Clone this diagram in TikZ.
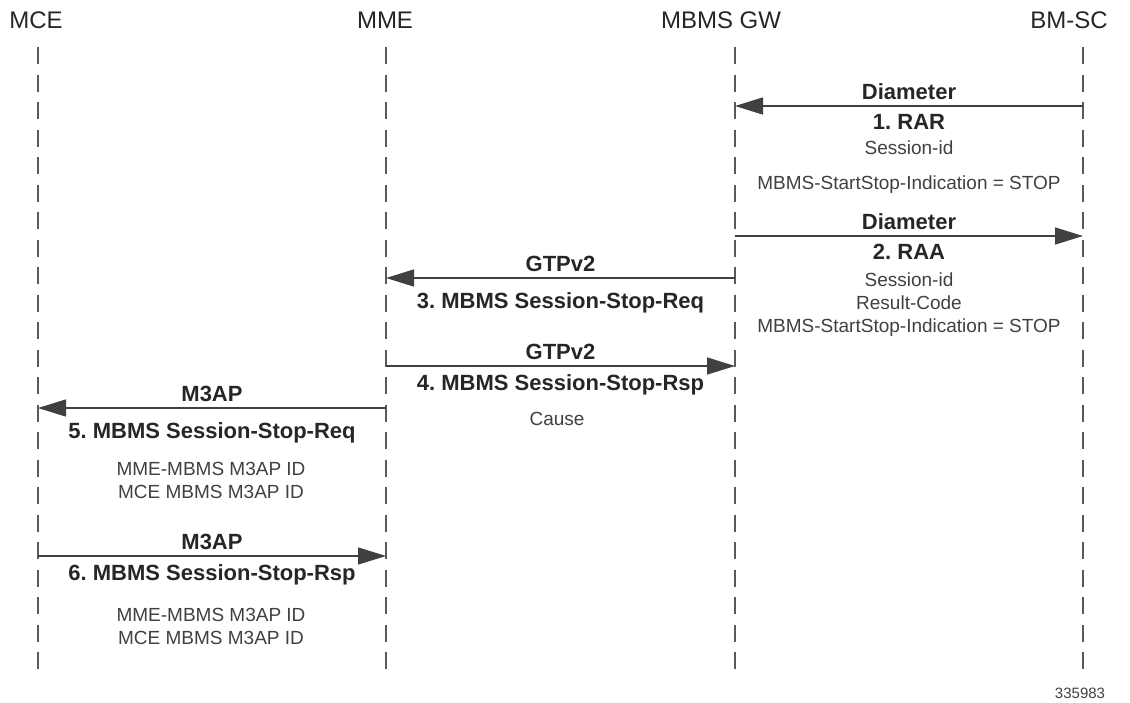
\documentclass[tikz,border=0pt]{standalone}
\usepackage{fontspec}
\setmainfont{Liberation Sans}
\frenchspacing
\usetikzlibrary{arrows.meta}
\tikzset{
  entity/.style={font=\fontsize{24}{28}\selectfont, text=black!85},
  lifeline/.style={draw=black!65, line width=1.8pt, dash pattern=on 17pt off 10.5pt},
  msg/.style={draw=black!75, line width=1.5pt, -{Triangle[length=28pt,width=17pt]}},
  proto/.style={font=\fontsize{22}{26}\selectfont\bfseries, text=black!85},
  info/.style={font=\fontsize{19}{23}\selectfont, text=black!75, align=center},
}
\begin{document}
\begin{tikzpicture}[x=1pt,y=-1pt]
\useasboundingbox (0,0) rectangle (1130,702);
% entities
\node [entity] (mce) at (36,20) {MCE};
\node [entity] (mme) at (385,20) {MME};
\node [entity] (gw) at (721,20) {MBMS GW};
\node [entity] (bmsc) at (1069,20) {BM-SC};
% lifelines
\coordinate (mcetop) at (38,47);  \coordinate (mcebot) at (38,679);
\coordinate (mmetop) at (386,47); \coordinate (mmebot) at (386,679);
\coordinate (gwtop) at (735,47);  \coordinate (gwbot) at (735,679);
\coordinate (bmtop) at (1083,47); \coordinate (bmbot) at (1083,679);
\draw [lifeline] (mcetop) -- (mcebot);
\draw [lifeline] (mmetop) -- (mmebot);
\draw [lifeline] (gwtop) -- (gwbot);
\draw [lifeline] (bmtop) -- (bmbot);
% 1. RAR
\coordinate (bm1) at (1083,106); \coordinate (gw1) at (735,106);
\draw [msg] (bm1) -- (gw1)
  node [proto, midway, above=2pt] (dia1) {Diameter}
  node [proto, midway, below=4.5pt] (rar) {1. RAR};
\node [info] (rarsid) at (909,148) {Session-id};
\node [info] (rarind) at (909,185) {MBMS-StartStop-Indication = STOP};
% 2. RAA
\coordinate (gw2) at (735,236); \coordinate (bm2) at (1083,236);
\draw [msg] (gw2) -- (bm2)
  node [proto, midway, above=2pt] (dia2) {Diameter}
  node [proto, midway, below=4.5pt] (raa) {2. RAA};
\node [info] (raasid) at (909,305) {Session-id\\Result-Code\\MBMS-StartStop-Indication = STOP};
% 3. Session-Stop-Req
\coordinate (gw3) at (735,278); \coordinate (mme3) at (386,278);
\draw [msg] (gw3) -- (mme3)
  node [proto, midway, above=2pt] (gtp3) {GTPv2}
  node [proto, midway, below=10pt] (req3) {3. MBMS Session-Stop-Req};
% 4. Session-Stop-Rsp
\coordinate (mme4) at (386,366); \coordinate (gw4) at (735,366);
\draw [msg] (mme4) -- (gw4)
  node [proto, midway, above=2pt] (gtp4) {GTPv2}
  node [proto, midway, below=4.5pt] (rsp4) {4. MBMS Session-Stop-Rsp};
\node [info] (cause) at (557,419) {Cause};
% 5. Session-Stop-Req
\coordinate (mme5) at (386,408); \coordinate (mce5) at (38,408);
\draw [msg] (mme5) -- (mce5)
  node [proto, midway, above=2pt] (m3ap5) {M3AP}
  node [proto, midway, below=10pt] (req5) {5. MBMS Session-Stop-Req};
\node [info] (ids5) at (211,480) {MME-MBMS M3AP ID\\MCE MBMS M3AP ID};
% 6. Session-Stop-Rsp
\coordinate (mce6) at (38,556); \coordinate (mme6) at (386,556);
\draw [msg] (mce6) -- (mme6)
  node [proto, midway, above=2pt] (m3ap6) {M3AP}
  node [proto, midway, below=4.5pt] (rsp6) {6. MBMS Session-Stop-Rsp};
\node [info] (ids6) at (211,626) {MME-MBMS M3AP ID\\MCE MBMS M3AP ID};
\node [font=\fontsize{15}{18}\selectfont, text=black!75] (figno) at (1080,693) {335983};
\end{tikzpicture}
\end{document}
